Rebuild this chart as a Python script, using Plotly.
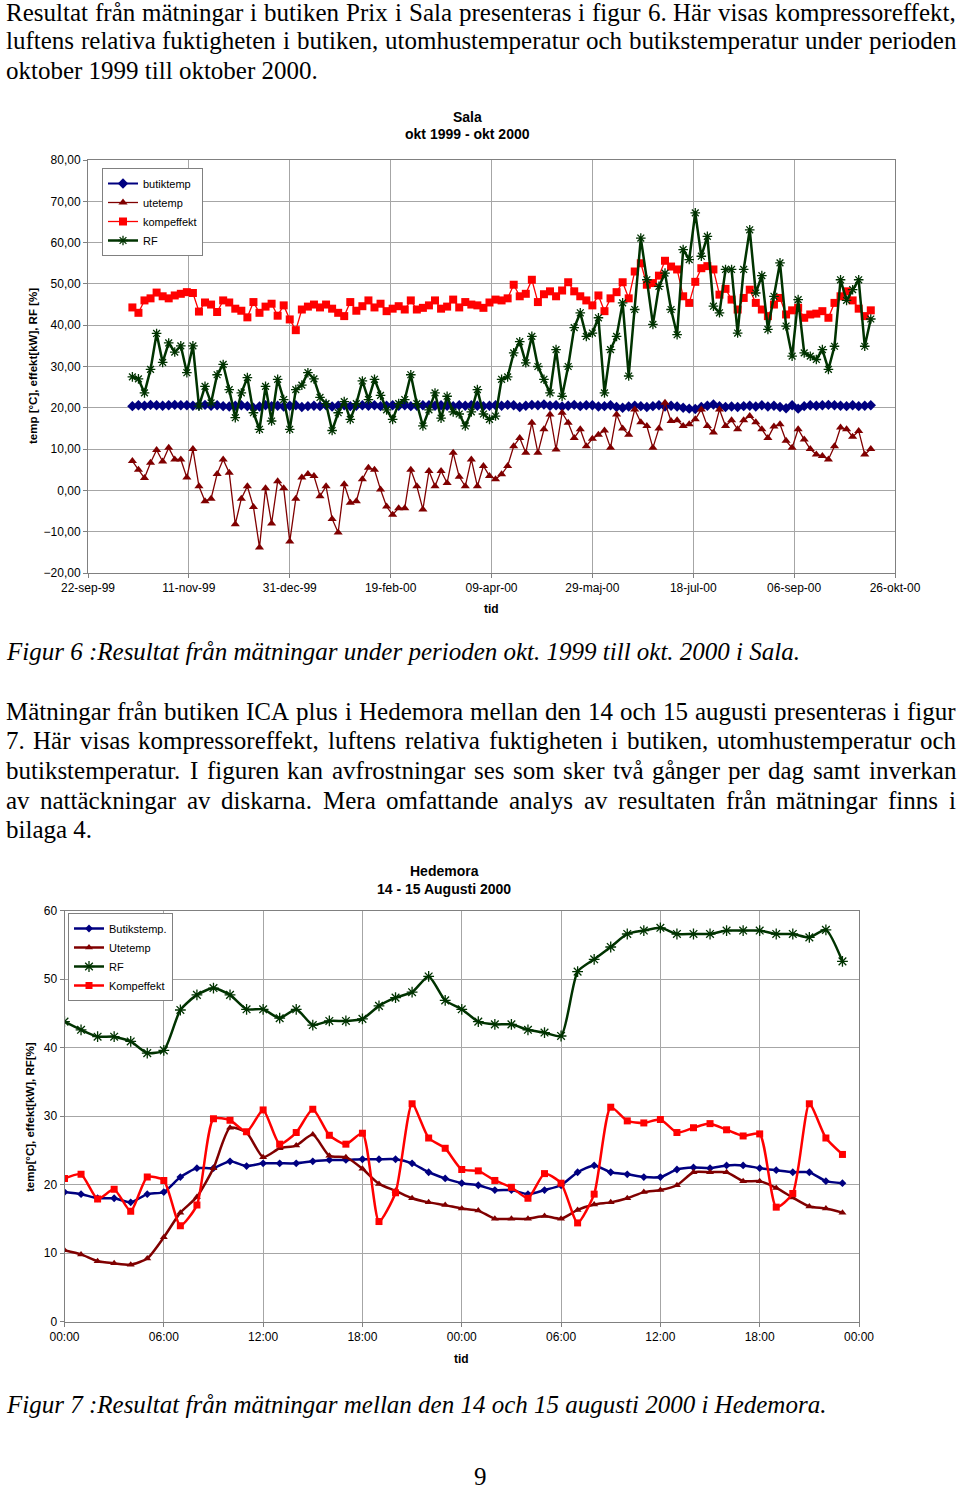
import plotly.graph_objects as go
import pandas as pd

# ---------------- DATA: Sala, okt 1999 - okt 2000 (one reading every 3rd day from 14-okt-99) ----------------
sala_start = "1999-10-14"
sala_butiktemp = [
    20.4, 20.6, 20.5, 20.7, 20.6, 20.5, 20.6, 20.7, 20.6, 20.6,
    20.5, 20.6, 20.7, 20.5, 20.6, 20.4, 20.3, 20.5, 20.6, 20.4,
    20.0, 20.3, 20.6, 20.4, 20.5, 20.3, 20.5, 20.6, 20.2, 20.4,
    20.5, 20.4, 20.6, 20.3, 20.5, 20.6, 20.4, 20.5, 20.6, 20.5,
    20.6, 20.4, 20.5, 20.6, 20.5, 20.6, 20.4, 20.5, 20.6, 20.6,
    20.5, 20.6, 20.5, 20.4, 20.6, 20.5, 20.6, 20.5, 20.4, 20.5,
    20.6, 20.5, 20.7, 20.6, 20.2, 20.5, 20.7, 20.6, 20.8, 20.5,
    20.6, 20.3, 20.5, 20.7, 20.4, 20.6, 20.6, 20.3, 20.4, 20.6,
    20.2, 20.0, 20.3, 20.5, 20.4, 20.2, 20.4, 20.6, 20.3, 20.5,
    20.3, 20.0, 19.8, 19.7, 20.2, 20.5, 20.8, 20.4, 20.2, 20.3,
    20.2, 20.4, 20.5, 20.3, 20.6, 20.3, 20.5, 20.2, 19.9, 20.6,
    19.8, 20.4, 20.6, 20.5, 20.6, 20.7, 20.6, 20.5, 20.4, 20.6,
    20.4, 20.5, 20.6,
]
sala_utetemp = [
    7.1, 5.0, 3.0, 6.7, 9.8, 7.0, 10.3, 7.5, 7.5, 3.1,
    10.0, 1.0, -2.6, -2.0, 4.0, 7.5, 4.3, -8.2, -2.0, 1.0,
    -4.0, -13.8, 0.5, -8.0, 2.2, 0.5, -12.4, -2.0, 3.1, 4.0,
    3.5, -1.4, 1.0, -6.9, -10.2, 1.5, -3.0, -2.6, 2.7, 5.5,
    5.0, 0.2, -3.9, -5.9, -4.3, -4.3, 5.0, 1.0, -4.6, 4.7,
    1.0, 4.7, 1.8, 9.1, 3.3, 1.0, 7.5, 1.0, 5.9, 3.5,
    2.7, 3.9, 5.9, 10.7, 12.7, 9.1, 16.4, 9.1, 14.8, 18.4,
    9.9, 18.8, 16.4, 12.7, 14.8, 10.7, 12.5, 13.5, 14.5, 10.3,
    18.4, 15.0, 13.5, 19.6, 16.5, 15.6, 10.3, 15.0, 21.2, 16.8,
    17.0, 15.6, 16.0, 17.2, 19.6, 15.6, 14.0, 19.6, 15.6, 17.0,
    14.8, 17.0, 18.0, 16.5, 14.8, 12.7, 15.5, 16.0, 12.0, 10.3,
    14.8, 12.3, 10.0, 8.7, 8.3, 7.5, 10.7, 15.2, 14.8, 13.0,
    14.4, 8.7, 10.0,
]
sala_kompeffekt = [
    44.3, 43.0, 46.0, 46.5, 47.9, 47.0, 46.5, 47.2, 47.6, 48.0,
    47.8, 43.3, 45.5, 45.0, 43.2, 46.0, 45.5, 44.0, 43.5, 41.9,
    45.6, 43.0, 44.5, 45.2, 42.3, 44.8, 41.4, 38.8, 43.8, 44.5,
    45.0, 44.3, 45.0, 44.0, 43.0, 42.2, 45.6, 43.5, 44.6, 46.0,
    44.3, 45.2, 43.4, 44.0, 44.6, 43.8, 46.0, 43.8, 44.2, 44.8,
    46.0, 44.0, 44.5, 46.2, 44.3, 45.6, 45.0, 44.8, 44.2, 45.5,
    46.2, 46.0, 46.5, 49.8, 47.0, 47.6, 51.0, 45.6, 47.5, 48.2,
    47.0, 48.4, 50.4, 48.2, 47.0, 46.0, 44.8, 47.2, 43.4, 46.5,
    48.0, 50.4, 46.5, 53.0, 55.0, 49.8, 50.2, 52.0, 55.6, 54.2,
    53.5, 47.0, 45.4, 50.5, 53.8, 54.3, 53.5, 47.4, 48.8, 46.2,
    43.8, 46.6, 48.6, 45.4, 43.8, 42.2, 45.0, 46.6, 42.6, 43.6,
    44.2, 41.8, 42.6, 42.8, 43.4, 41.8, 45.4, 47.0, 48.2, 46.0,
    44.0, 42.2, 43.6,
]
sala_rf = [
    27.5, 27.0, 23.6, 29.3, 38.0, 31.0, 35.7, 33.5, 35.0, 28.5,
    35.0, 20.4, 25.2, 21.2, 28.0, 30.5, 24.4, 17.6, 23.6, 27.3,
    18.8, 14.8, 25.2, 16.8, 26.9, 22.0, 14.8, 24.4, 25.5, 28.5,
    27.0, 22.5, 21.0, 14.5, 18.8, 21.5, 17.2, 21.0, 26.5, 22.0,
    26.9, 23.0, 19.5, 17.2, 21.0, 22.0, 28.0, 21.0, 15.6, 19.5,
    23.6, 17.5, 22.8, 19.0, 18.5, 15.6, 19.0, 24.4, 18.5, 17.2,
    18.0, 26.9, 27.5, 33.3, 36.0, 30.9, 37.3, 30.0, 26.9, 23.6,
    34.1, 22.8, 30.0, 39.4, 43.0, 37.3, 38.1, 41.8, 23.6, 34.1,
    37.3, 45.4, 27.7, 43.8, 61.1, 51.0, 40.2, 49.4, 52.6, 43.8,
    37.7, 58.3, 55.9, 67.2, 56.7, 61.5, 44.6, 43.0, 53.5, 53.5,
    38.1, 53.5, 63.1, 47.8, 52.0, 39.0, 47.0, 55.1, 39.8, 32.5,
    46.2, 33.3, 32.5, 31.7, 34.1, 29.3, 34.9, 51.0, 46.0, 48.6,
    51.0, 34.9, 41.5,
]
sala_tickdates = ["1999-09-22", "1999-11-11", "1999-12-31", "2000-02-19", "2000-04-09",
                  "2000-05-29", "2000-07-18", "2000-09-06", "2000-10-26"]
sala_ticklabels = ["22-sep-99", "11-nov-99", "31-dec-99", "19-feb-00", "09-apr-00",
                   "29-maj-00", "18-jul-00", "06-sep-00", "26-okt-00"]

# ---------------- DATA: Hedemora, 14 - 15 augusti 2000 (hourly) ----------------
hed_hours = list(range(48))
hed_butikstemp = [18.9, 18.6, 18.0, 18.0, 17.4, 18.6, 18.9, 21.1, 22.4, 22.4,
                  23.4, 22.7, 23.1, 23.1, 23.1, 23.4, 23.6, 23.6, 23.7, 23.7,
                  23.7, 23.1, 21.8, 20.9, 20.2, 19.9, 19.2, 19.2, 18.6, 19.2,
                  19.9, 21.8, 22.8, 21.8, 21.5, 21.1, 21.1, 22.2, 22.5, 22.4,
                  22.8, 22.8, 22.4, 22.1, 21.8, 21.8, 20.5, 20.2]
hed_utetemp = [10.4, 9.8, 8.8, 8.5, 8.3, 9.2, 12.3, 15.9, 18.2, 22.4,
               28.3, 27.6, 24.0, 25.3, 25.7, 27.3, 24.2, 24.0, 22.3, 20.1,
               19.1, 18.0, 17.4, 17.0, 16.5, 16.2, 15.0, 15.0, 15.0, 15.4,
               15.0, 16.3, 17.1, 17.4, 18.0, 18.9, 19.2, 19.9, 21.8, 21.8,
               21.8, 20.5, 20.5, 19.5, 18.1, 16.8, 16.5, 15.9]
hed_rf = [43.8, 42.6, 41.6, 41.6, 40.9, 39.2, 39.6, 45.5, 47.7, 48.7,
          47.7, 45.6, 45.6, 44.3, 45.6, 43.3, 43.9, 43.9, 44.2, 46.1,
          47.3, 48.1, 50.4, 46.9, 45.6, 43.8, 43.4, 43.4, 42.6, 42.2,
          41.7, 51.1, 52.9, 54.7, 56.6, 57.1, 57.5, 56.6, 56.6, 56.6,
          57.1, 57.1, 57.1, 56.6, 56.6, 56.1, 57.2, 52.6]
hed_kompeffekt = [20.9, 21.5, 17.9, 19.3, 16.1, 21.1, 20.6, 14.0, 17.0, 29.6,
                  29.4, 27.7, 30.9, 25.9, 27.6, 31.0, 27.2, 25.9, 27.5, 14.6,
                  18.8, 31.8, 26.8, 25.3, 22.2, 22.0, 20.6, 19.6, 18.0, 21.6,
                  20.2, 14.4, 18.6, 31.3, 29.3, 29.0, 29.5, 27.6, 28.3, 28.9,
                  28.0, 27.1, 27.4, 16.7, 18.7, 31.8, 26.8, 24.4]
hed_tickvals = [0, 6, 12, 18, 24, 30, 36, 42, 48]
hed_ticklabels = ["00:00", "06:00", "12:00", "18:00", "00:00", "06:00", "12:00", "18:00", "00:00"]

# ---------------- TEXT ----------------
para1 = ["Resultat från mätningar i butiken Prix i Sala presenteras i figur 6. Här visas kompressoreffekt,",
         "luftens relativa fuktigheten i butiken, utomhustemperatur och butikstemperatur under perioden",
         "oktober 1999 till oktober 2000."]
caption6 = "Figur 6 :Resultat från mätningar under perioden okt. 1999 till okt. 2000 i Sala."
para2 = ["Mätningar från butiken ICA plus i Hedemora mellan den 14 och 15 augusti presenteras i figur",
         "7. Här visas kompressoreffekt, luftens relativa fuktigheten i butiken, utomhustemperatur och",
         "butikstemperatur. I figuren kan avfrostningar ses som sker två gånger per dag samt inverkan",
         "av nattäckningar av diskarna. Mera omfattande analys av resultaten från mätningar finns i",
         "bilaga 4."]
caption7 = "Figur 7 :Resultat från mätningar mellan den 14 och 15 augusti 2000 i Hedemora."

# ---------------- LAYOUT HELPERS ----------------
W, H = 960, 1492
SERIF = "Liberation Serif"
SANS = "Liberation Sans"
TXT = 25

def px(x):
    return x / W

def py(y):
    return 1 - y / H

_w = dict(zip("abcdefghijklmnopqrstuvwxyz",
              [444, 500, 444, 500, 444, 333, 500, 500, 278, 278, 500, 278, 778,
               500, 500, 500, 500, 333, 389, 278, 500, 500, 722, 500, 500, 444]))
_w.update(dict(zip("ABCDEFGHIJKLMNOPQRSTUVWXYZ",
                   [722, 667, 667, 722, 611, 556, 722, 722, 333, 389, 722, 611, 889,
                    722, 722, 556, 722, 667, 556, 611, 722, 722, 944, 722, 722, 611])))
_w.update({"å": 444, "ä": 444, "ö": 500, "Å": 722, "Ä": 722, "Ö": 722, " ": 250,
           ".": 250, ",": 250, ":": 278, ";": 278, "-": 333})
for d in "0123456789":
    _w[d] = 500

def tw(s):
    return sum(_w.get(c, 500) for c in s) * TXT / 1000.0

annotations = []

def text_line(s, y, x0=5, x1=955, justify=True, italic=False):
    if not justify:
        annotations.append(dict(text=("<i>%s</i>" % s) if italic else s, x=px(x0 - 1), y=py(y),
                                xref="paper", yref="paper", xanchor="left", yanchor="middle",
                                showarrow=False, font=dict(family=SERIF, size=TXT, color="black")))
        return
    words = s.split(" ")
    total = sum(tw(w) for w in words)
    gap = (x1 - x0 - total) / (len(words) - 1)
    x = x0
    for w in words:
        annotations.append(dict(text=w, x=px(x - 1), y=py(y), xref="paper", yref="paper",
                                xanchor="left", yanchor="middle", showarrow=False,
                                font=dict(family=SERIF, size=TXT, color="black")))
        x += tw(w) + gap

for i, (s, y) in enumerate(zip(para1, [12, 41, 70])):
    text_line(s, y, justify=(i < len(para1) - 1))
text_line(caption6, 651, justify=False, italic=True)
for i, (s, y) in enumerate(zip(para2, [711, 740, 770, 800, 829])):
    text_line(s, y, justify=(i < len(para2) - 1))
text_line(caption7, 1404, justify=False, italic=True)
# page number: anchored at its bottom so the text box stays inside the page
annotations.append(dict(text="9", x=px(480), y=py(1491), xref="paper", yref="paper",
                        xanchor="center", yanchor="bottom", borderpad=0,
                        showarrow=False, font=dict(family=SERIF, size=TXT, color="black")))

def lbl(text, x, y, size, bold=True, angle=0):
    annotations.append(dict(text=("<b>%s</b>" % text) if bold else text, x=px(x), y=py(y),
                            xref="paper", yref="paper", showarrow=False, textangle=angle,
                            xanchor="center", yanchor="middle",
                            font=dict(family=SANS, size=size, color="black")))

# chart titles / axis titles
lbl("Sala", 467, 117, 14)
lbl("okt 1999 - okt 2000", 467, 134, 14)
lbl("temp [°C], effekt[kW], RF [%]", 33, 366, 11.5, angle=-90)
lbl("tid", 491, 609, 12)
lbl("Hedemora", 444, 871, 14)
lbl("14 - 15 Augusti 2000", 444, 889, 14)
lbl("temp[°C], effekt[kW], RF[%]", 30, 1117, 11.5, angle=-90)
lbl("tid", 461, 1359, 12)

# ---------------- FIGURE ----------------
sala_dates = pd.date_range(sala_start, periods=len(sala_butiktemp), freq="3D")

NAVY, MAROON, RED, GREEN = "#000080", "#800000", "#ff0000", "#003300"

fig = go.Figure()
fig.add_trace(go.Scatter(x=sala_dates, y=sala_butiktemp, name="butiktemp", mode="lines+markers",
                         line=dict(color=NAVY, width=2),
                         marker=dict(symbol="diamond", size=8, color=NAVY),
                         xaxis="x", yaxis="y", legend="legend"))
fig.add_trace(go.Scatter(x=sala_dates, y=sala_utetemp, name="utetemp", mode="lines+markers",
                         line=dict(color=MAROON, width=1.3),
                         marker=dict(symbol="triangle-up", size=8, color=MAROON),
                         xaxis="x", yaxis="y", legend="legend"))
fig.add_trace(go.Scatter(x=sala_dates, y=sala_kompeffekt, name="kompeffekt", mode="lines+markers",
                         line=dict(color=RED, width=1.3),
                         marker=dict(symbol="square", size=8, color=RED),
                         xaxis="x", yaxis="y", legend="legend"))
fig.add_trace(go.Scatter(x=sala_dates, y=sala_rf, name="RF", mode="lines+markers",
                         line=dict(color=GREEN, width=2.5),
                         marker=dict(symbol="asterisk-open", size=8, color=GREEN,
                                     line=dict(color=GREEN, width=1.3)),
                         xaxis="x", yaxis="y", legend="legend"))

fig.add_trace(go.Scatter(x=hed_hours, y=hed_butikstemp, name="Butikstemp.", mode="lines+markers",
                         line=dict(color=NAVY, width=2.5, shape="spline", smoothing=0.6),
                         marker=dict(symbol="diamond", size=6, color=NAVY),
                         xaxis="x2", yaxis="y2", legend="legend2"))
fig.add_trace(go.Scatter(x=hed_hours, y=hed_utetemp, name="Utetemp", mode="lines+markers",
                         line=dict(color=MAROON, width=2.5, shape="spline", smoothing=0.6),
                         marker=dict(symbol="triangle-up", size=7, color=MAROON),
                         xaxis="x2", yaxis="y2", legend="legend2"))
fig.add_trace(go.Scatter(x=hed_hours, y=hed_rf, name="RF", mode="lines+markers",
                         line=dict(color=GREEN, width=2.5, shape="spline", smoothing=0.6),
                         marker=dict(symbol="asterisk-open", size=9, color=GREEN,
                                     line=dict(color=GREEN, width=1.3)),
                         xaxis="x2", yaxis="y2", legend="legend2"))
fig.add_trace(go.Scatter(x=hed_hours, y=hed_kompeffekt, name="Kompeffekt", mode="lines+markers",
                         line=dict(color=RED, width=2.5, shape="spline", smoothing=0.6),
                         marker=dict(symbol="square", size=7, color=RED),
                         xaxis="x2", yaxis="y2", legend="legend2"))

AX = dict(showline=True, linecolor="#808080", linewidth=1, mirror=True,
          showgrid=True, gridcolor="#a6a6a6", gridwidth=1, zeroline=False,
          ticks="outside", ticklen=4, tickcolor="#808080", automargin=False,
          tickfont=dict(family=SANS, size=12, color="black"))

fig.update_layout(
    template="none",
    width=W, height=H, margin=dict(l=0, r=0, t=0, b=0, pad=0, autoexpand=False),
    paper_bgcolor="white", plot_bgcolor="white",
    separators=",.",
    xaxis=dict(AX, domain=[px(88), px(895)], anchor="y", type="date",
               range=["1999-09-22", "2000-10-26"], tickmode="array",
               tickvals=sala_tickdates, ticktext=sala_ticklabels),
    yaxis=dict(AX, domain=[py(573), py(160)], anchor="x", range=[-20, 80],
               tickmode="linear", tick0=-20, dtick=10, tickformat=".2f"),
    xaxis2=dict(AX, domain=[px(64.5), px(859)], anchor="y2", range=[0, 48],
                tickmode="array", tickvals=hed_tickvals, ticktext=hed_ticklabels),
    yaxis2=dict(AX, domain=[py(1321.5), py(910.7)], anchor="x2", range=[0, 60],
                tickmode="linear", tick0=0, dtick=10),
    legend=dict(x=px(102), y=py(168), xanchor="left", yanchor="top", bgcolor="white",
                bordercolor="#808080", borderwidth=1, itemwidth=30,
                font=dict(family=SANS, size=11, color="black")),
    legend2=dict(x=px(68), y=py(913), xanchor="left", yanchor="top", bgcolor="white",
                 bordercolor="#808080", borderwidth=1, itemwidth=30,
                 font=dict(family=SANS, size=11, color="black")),
    annotations=annotations,
    showlegend=True,
)

page_css = ("document.documentElement.style.margin='0';document.body.style.margin='0';"
            "document.body.style.padding='0';document.documentElement.style.overflow='hidden';"
            "document.body.style.overflow='hidden';")
fig.write_html("out.html", post_script=page_css, config={"displayModeBar": False})
